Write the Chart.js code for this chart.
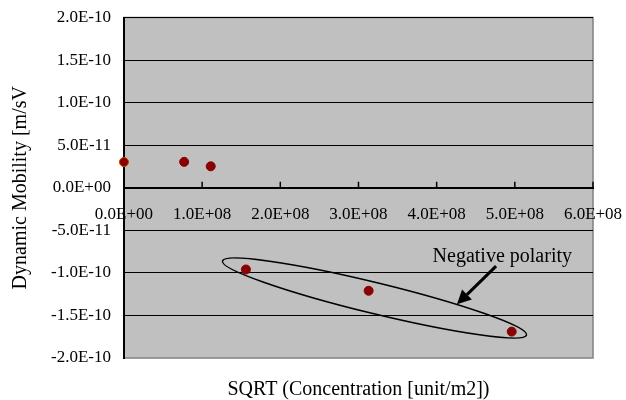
<!DOCTYPE html>
<html>
<head>
<meta charset="utf-8">
<script src="https://cdn.jsdelivr.net/npm/chart.js@4/dist/chart.umd.min.js"></script>
<style>
  html, body { margin: 0; padding: 0; background: #fff; }
  #wrap { width: 626px; height: 400px; }
</style>
</head>
<body>
<div id="wrap"><canvas id="chart" width="626" height="400"></canvas></div>
<script>
// ─── DATA ───────────────────────────────────────────────────────
const concX = [0, 0.77e8, 1.11e8, 1.56e8, 3.13e8, 4.96e8];
const mobilityY = [3.02e-11, 3.04e-11, 2.52e-11, -9.6e-11, -1.21e-10, -1.69e-10];

const xRange = [0, 6e8, 1e8];          // min, max, step
const yRange = [-2e-10, 2e-10, 5e-11];

const xTitle = 'SQRT (Concentration [unit/m2])';
const yTitle = 'Dynamic Mobility [m/sV';

// annotation: ellipse tips (data units), arrow from/to, label anchor
const ellipseTips = [[1.26e8, -0.86e-10], [5.15e8, -1.73e-10]];
const arrowFrom = [4.76e8, -0.92e-10];
const arrowTo = [4.26e8, -1.37e-10];
const noteText = 'Negative polarity';
const notePos = [4.84e8, -0.81e-10];

const FAMILY = "'Liberation Serif', 'Times New Roman', serif";
const TICK_FONT = { family: FAMILY, size: 17 };
const TITLE_FONT = { family: FAMILY, size: 20, weight: 'normal' };

function sci(v) {
  if (Math.abs(v) < 1e-30) return '0.0E+00';
  const [m, e] = Number(v).toExponential(1).split('e');
  const sign = e[0] === '-' ? '-' : '+';
  const d = e.replace(/[+-]/, '').padStart(2, '0');
  return m + 'E' + sign + d;
}

// labels may hang over the plot edges, like the spreadsheet original
function noOverhang(scale) {
  scale.paddingLeft = 0;
  scale.paddingRight = 0;
  scale.paddingTop = 0;
  scale.paddingBottom = 0;
}

// ─── PLUGINS ────────────────────────────────────────────────────
const plotBg = {
  id: 'plotBg',
  beforeDraw(chart) {
    const { ctx, chartArea: a } = chart;
    ctx.save();
    ctx.fillStyle = '#C0C0C0';
    ctx.fillRect(a.left, a.top, a.right - a.left, a.bottom - a.top);
    ctx.strokeStyle = '#808080';
    ctx.lineWidth = 1.5;
    ctx.strokeRect(a.left, a.top, a.right - a.left, a.bottom - a.top);
    ctx.restore();
  },
};

const upTicks = {
  id: 'upTicks',
  afterDraw(chart) {
    const { ctx, scales: { x, y } } = chart;
    const y0 = y.getPixelForValue(0);
    ctx.save();
    ctx.strokeStyle = '#000';
    ctx.lineWidth = 1.5;
    x.ticks.forEach(t => {
      const px = x.getPixelForValue(t.value);
      ctx.beginPath();
      ctx.moveTo(px, y0);
      ctx.lineTo(px, y0 - 6);
      ctx.stroke();
    });
    ctx.restore();
  },
};

const note = {
  id: 'note',
  afterDatasetsDraw(chart) {
    const { ctx, scales: { x, y } } = chart;
    const px = p => [x.getPixelForValue(p[0]), y.getPixelForValue(p[1])];
    ctx.save();

    // ellipse
    const [a1, a2] = ellipseTips.map(px);
    const cx = (a1[0] + a2[0]) / 2, cy = (a1[1] + a2[1]) / 2;
    const rx = Math.hypot(a2[0] - a1[0], a2[1] - a1[1]) / 2;
    const rot = Math.atan2(a2[1] - a1[1], a2[0] - a1[0]);
    ctx.strokeStyle = '#000';
    ctx.lineWidth = 1.5;
    ctx.beginPath();
    ctx.ellipse(cx, cy, rx, 15.5, rot, 0, Math.PI * 2);
    ctx.stroke();

    // arrow
    const [f, t] = [px(arrowFrom), px(arrowTo)];
    const ang = Math.atan2(t[1] - f[1], t[0] - f[0]);
    const hl = 14, hw = 7;
    const bx = t[0] - hl * Math.cos(ang), by = t[1] - hl * Math.sin(ang);
    ctx.lineWidth = 3;
    ctx.beginPath();
    ctx.moveTo(f[0], f[1]);
    ctx.lineTo(bx, by);
    ctx.stroke();
    ctx.fillStyle = '#000';
    ctx.beginPath();
    ctx.moveTo(t[0], t[1]);
    ctx.lineTo(bx + hw * Math.sin(ang), by - hw * Math.cos(ang));
    ctx.lineTo(bx - hw * Math.sin(ang), by + hw * Math.cos(ang));
    ctx.closePath();
    ctx.fill();

    // label
    const [lx, ly] = px(notePos);
    ctx.font = `${TITLE_FONT.size}px ${FAMILY}`;
    ctx.textAlign = 'center';
    ctx.textBaseline = 'middle';
    ctx.fillText(noteText, lx, ly);
    ctx.restore();
  },
};

// ─── CHART ──────────────────────────────────────────────────────
Chart.defaults.font.family = FAMILY;
Chart.defaults.font.size = 17;
Chart.defaults.color = '#000';

new Chart(document.getElementById('chart'), {
  type: 'scatter',
  data: {
    datasets: [{
      data: concX.map((v, i) => ({ x: v, y: mobilityY[i] })),
      backgroundColor: '#8B0000',
      borderColor: concX.map((v, i) => i === 0 ? '#B34700' : '#8B0000'),
      borderWidth: 1,
      pointRadius: 4.5,
      clip: false,
    }],
  },
  options: {
    responsive: false,
    animation: false,
    layout: { padding: { left: 0, right: 33, top: 17.5, bottom: 0 } },
    plugins: {
      legend: { display: false },
      tooltip: { enabled: false },
      title: {
        display: true,
        position: 'bottom',
        fullSize: false,
        text: xTitle,
        font: TITLE_FONT,
        color: '#000',
        padding: { top: 20, bottom: -2 },
      },
    },
    scales: {
      x: {
        type: 'linear',
        position: { y: 0 },
        min: xRange[0],
        max: xRange[1],
        afterFit: noOverhang,
        grid: { drawOnChartArea: false, drawTicks: false },
        border: { display: true, color: '#000', width: 2 },
        ticks: { stepSize: xRange[2], padding: 17, maxRotation: 0, callback: v => sci(v), font: TICK_FONT },
      },
      y: {
        type: 'linear',
        min: yRange[0],
        max: yRange[1],
        afterFit: noOverhang,
        grid: {
          drawTicks: false,
          color: c => (c.tick && c.tick.value <= yRange[0] + 1e-20) ? 'rgba(0,0,0,0)' : '#000',
          lineWidth: 1,
        },
        border: { display: true, color: '#000', width: 2 },
        ticks: { stepSize: yRange[2], padding: 13, callback: v => sci(v), font: TICK_FONT },
        title: { display: true, text: yTitle, font: TITLE_FONT, padding: { top: 9, bottom: 5 } },
      },
    },
  },
  plugins: [plotBg, upTicks, note],
});
</script>
</body>
</html>
